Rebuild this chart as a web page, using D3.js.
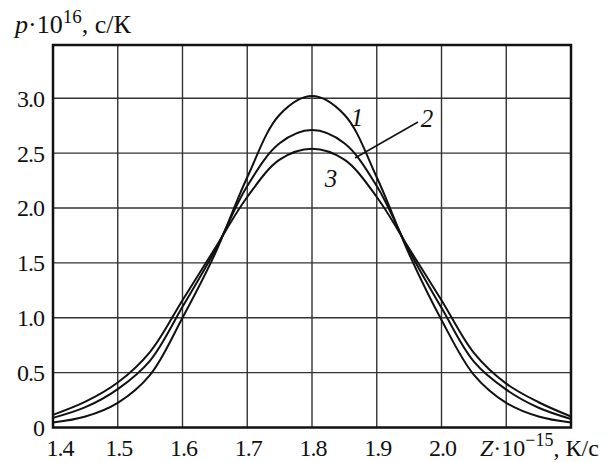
<!DOCTYPE html>
<html><head><meta charset="utf-8">
<script src="https://cdn.jsdelivr.net/npm/d3@7"></script>
<style>
body{margin:0;background:#fff;}
svg{display:block;}
text{font-family:"Liberation Serif","Times New Roman",serif;fill:#111;}
</style></head>
<body><svg id="c" width="611" height="462"></svg>
<script>
const xValues = [1.4,1.45,1.5,1.55,1.6,1.65,1.7,1.75,1.8,1.85,1.9,1.95,2.0,2.05,2.1,2.15,2.2];
const curve1 = [0.045,0.10,0.225,0.48,1.0,1.58,2.28,2.85,3.02,2.85,2.28,1.58,0.98,0.48,0.225,0.10,0.045];
const curve2 = [0.088,0.185,0.35,0.61,1.1,1.61,2.2,2.59,2.71,2.59,2.2,1.61,1.09,0.6,0.345,0.18,0.078];
const curve3 = [0.115,0.235,0.41,0.69,1.16,1.63,2.1,2.44,2.54,2.44,2.1,1.63,1.16,0.68,0.40,0.23,0.10];
const xTicks = [1.4,1.5,1.6,1.7,1.8,1.9,2.0];
const xGrid = [1.5,1.6,1.7,1.8,1.9,2.0,2.1];
const yTicks = [0,0.5,1.0,1.5,2.0,2.5,3.0];
const yTickLabels = ["0","0.5","1.0","1.5","2.0","2.5","3.0"];
const seriesNames = ["1","2","3"];

const svg = d3.select("#c");
const x = d3.scaleLinear().domain([1.4,2.2]).range([53,571]);
const y = d3.scaleLinear().domain([0,3.485]).range([427.5,45]);

// grid
const g = svg.append("g");
g.selectAll("line.v").data(xGrid).join("line")
  .attr("x1",d=>x(d)).attr("x2",d=>x(d)).attr("y1",y(3.485)).attr("y2",y(0))
  .attr("stroke","#333").attr("stroke-width",1.4);
g.selectAll("line.h").data(yTicks.filter(d=>d>0)).join("line")
  .attr("x1",x(1.4)).attr("x2",x(2.2)).attr("y1",d=>y(d)).attr("y2",d=>y(d))
  .attr("stroke","#333").attr("stroke-width",1.4);

// curves
const line = d3.line().x((d,i)=>x(xValues[i])).y(d=>y(d)).curve(d3.curveCatmullRom.alpha(0.5));
[curve1,curve2,curve3].forEach(s=>{
  svg.append("path").attr("d",line(s)).attr("fill","none")
    .attr("stroke","#111").attr("stroke-width",2);
});

// frame
svg.append("rect").attr("x",x(1.4)).attr("y",y(3.485))
  .attr("width",x(2.2)-x(1.4)).attr("height",y(0)-y(3.485))
  .attr("fill","none").attr("stroke","#111").attr("stroke-width",2.5);

// y tick labels
svg.selectAll("text.yt").data(yTicks).join("text")
  .attr("x",44).attr("y",d=>y(d)).attr("dy","0.35em")
  .attr("text-anchor","end").attr("font-size",24).attr("letter-spacing","-1")
  .text((d,i)=>yTickLabels[i]);

// x tick labels
svg.selectAll("text.xt").data(xTicks).join("text")
  .attr("x",(d,i)=>x(d)+(i===0?7:1))
  .attr("y",456).attr("text-anchor","middle").attr("font-size",24).attr("letter-spacing","-1")
  .text(d=>d.toFixed(1));

// axis titles
const yt = svg.append("text").attr("x",15).attr("y",33).attr("font-size",26);
yt.append("tspan").attr("font-style","italic").text("p");
yt.append("tspan").text("·10");
yt.append("tspan").attr("font-size",19).attr("dy",-10).text("16");
yt.append("tspan").attr("dy",10).text(", с/К");

const xt = svg.append("text").attr("x",480).attr("y",456).attr("font-size",24);
xt.append("tspan").attr("font-style","italic").text("Z");
xt.append("tspan").text("·10");
xt.append("tspan").attr("font-size",18).attr("dy",-10).text("−15");
xt.append("tspan").attr("dy",10).text(", К/с");

// series labels
const labelPos = [[357,117],[427,118],[331,178]];
svg.selectAll("text.sl").data(seriesNames).join("text")
  .attr("x",(d,i)=>labelPos[i][0]).attr("y",(d,i)=>labelPos[i][1]).attr("dy","0.35em")
  .attr("text-anchor","middle").attr("font-size",25).attr("font-style","italic")
  .text(d=>d);
svg.append("line").attr("x1",418).attr("y1",122).attr("x2",355).attr("y2",158)
  .attr("stroke","#111").attr("stroke-width",1.6);
</script></body></html>
